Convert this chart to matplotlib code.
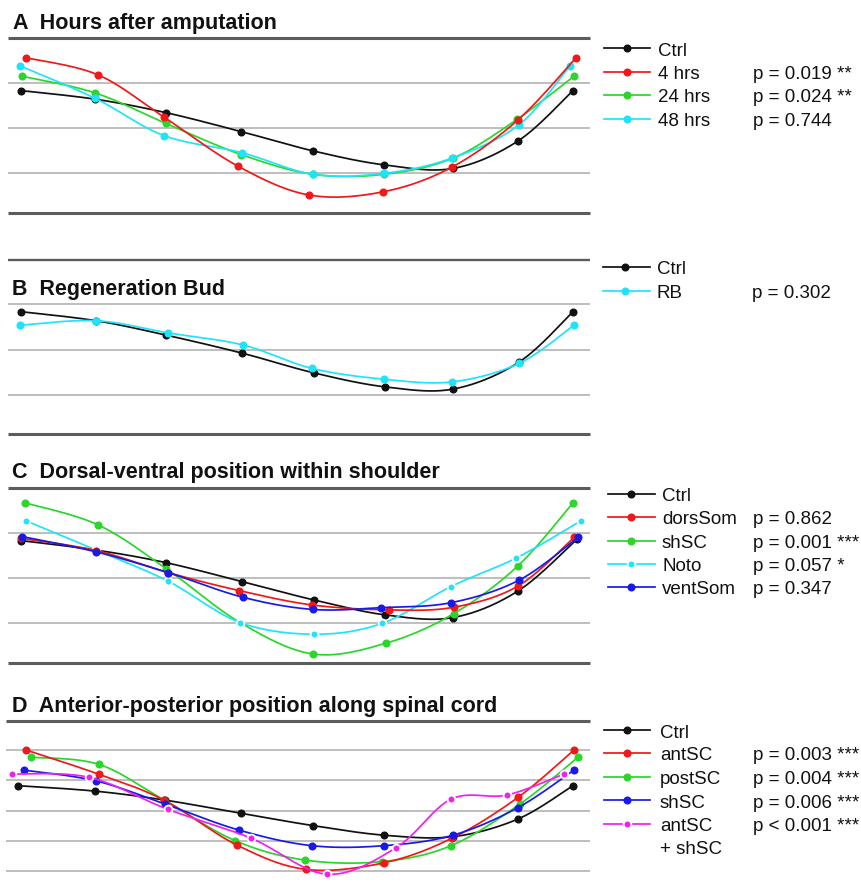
import numpy as np
import matplotlib
matplotlib.use("Agg")
import matplotlib.pyplot as plt
from matplotlib.lines import Line2D

plt.rcParams['font.family'] = ['Liberation Sans', 'DejaVu Sans']

W, H = 861, 893

# ---------------- data ----------------
# Panel A: hours after amputation
ctrlA_x = [21, 95, 166, 241, 313, 384, 453, 518, 573]
ctrlA = [2.82, 2.63, 2.33, 1.91, 1.48, 1.17, 1.09, 1.70, 2.82]
h4_x = [26, 98, 164, 238, 309, 383, 452, 518, 576]
h4 = [3.55, 3.17, 2.23, 1.14, 0.50, 0.57, 1.12, 2.17, 3.55]
h24_x = [22, 95, 166, 241, 313, 384, 453, 517, 574]
h24 = [3.14, 2.77, 2.09, 1.40, 0.96, 0.96, 1.32, 2.18, 3.14]
h48_x = [20, 95, 164, 242, 313, 384, 452, 519, 570]
h48 = [3.37, 2.65, 1.82, 1.44, 0.96, 0.98, 1.32, 2.06, 3.37]

# Panel B: regeneration bud
ctrlB_x = [21, 96, 166, 242, 314, 385, 453, 519, 573]
ctrlB = [2.84, 2.64, 2.32, 1.92, 1.48, 1.17, 1.12, 1.72, 2.84]
rb_x = [20, 96, 168, 243, 312, 384, 452, 519, 574]
rb = [2.54, 2.64, 2.37, 2.10, 1.58, 1.34, 1.28, 1.69, 2.54]

# Panel C: dorsal-ventral position within shoulder
ctrlC_x = [21, 96, 166, 242, 314, 385, 453, 518, 577]
ctrlC = [2.82, 2.61, 2.33, 1.91, 1.50, 1.17, 1.11, 1.70, 2.85]
dors_x = [21, 96, 168, 239, 312, 389, 454, 518, 574]
dors = [2.87, 2.60, 2.11, 1.71, 1.39, 1.28, 1.34, 1.81, 2.89]
shscC_x = [25, 98, 166, 240, 313, 386, 454, 518, 573]
shscC = [3.66, 3.17, 2.20, 1.00, 0.30, 0.54, 1.20, 2.26, 3.66]
noto_x = [26, 96, 168, 240, 314, 382, 451, 516, 581]
noto = [3.26, 2.61, 1.92, 1.00, 0.74, 0.98, 1.80, 2.43, 3.26]
vent_x = [22, 96, 168, 243, 313, 381, 451, 519, 578]
vent = [2.91, 2.57, 2.11, 1.56, 1.29, 1.33, 1.44, 1.94, 2.89]

# Panel D: anterior-posterior position along spinal cord
ctrlD_x = [18, 95, 165, 241, 313, 384, 453, 518, 573]
ctrlD = [3.81, 3.63, 3.33, 2.89, 2.48, 2.16, 2.11, 2.70, 3.81]
ant_x = [26, 99, 164, 237, 306, 384, 452, 518, 574]
ant = [5.00, 4.19, 3.33, 1.83, 1.02, 1.24, 2.06, 3.42, 5.00]
post_x = [31, 99, 164, 235, 305, 382, 451, 520, 578]
post = [4.76, 4.52, 3.33, 1.98, 1.33, 1.28, 1.81, 3.20, 4.76]
shscD_x = [24, 96, 165, 239, 312, 384, 453, 518, 574]
shscD = [4.33, 3.97, 3.20, 2.33, 1.81, 1.81, 2.16, 3.08, 4.33]
combo_x = [12, 89, 168, 251, 327, 396, 451, 507, 564]
combo = [4.20, 4.09, 3.02, 2.06, 0.86, 1.74, 3.36, 3.50, 4.20]

titles = ["A  Hours after amputation", "B  Regeneration Bud",
          "C  Dorsal-ventral position within shoulder",
          "D  Anterior-posterior position along spinal cord"]

labelsA = ["Ctrl", "4 hrs", "24 hrs", "48 hrs"]
pA = ["", "p = 0.019 **", "p = 0.024 **", "p = 0.744"]
labelsB = ["Ctrl", "RB"]
pB = ["", "p = 0.302"]
labelsC = ["Ctrl", "dorsSom", "shSC", "Noto", "ventSom"]
pC = ["", "p = 0.862", "p = 0.001 ***", "p = 0.057 *", "p = 0.347"]
labelsD = ["Ctrl", "antSC", "postSC", "shSC", "antSC\n+ shSC"]
pD = ["", "p = 0.003 ***", "p = 0.004 ***", "p = 0.006 ***", "p < 0.001 ***"]

BLACK = "#111111"
RED = "#f01818"
GREEN = "#2ad62a"
CYAN = "#1ee4fa"
BLUE = "#1a1ae6"
MAG = "#f020f0"

fig = plt.figure(figsize=(W / 100, H / 100), dpi=100)


def smooth(x, y, n=40):
    P = np.column_stack([x, y]).astype(float)
    Pe = np.vstack([P[0], P, P[-1]])
    out = []
    t = np.linspace(0, 1, n)[:, None]
    for i in range(len(P) - 1):
        p0, p1, p2, p3 = Pe[i], Pe[i + 1], Pe[i + 2], Pe[i + 3]
        c1 = p1 + (p2 - p0) / 6.0
        c2 = p2 - (p3 - p1) / 6.0
        seg = (1 - t) ** 3 * p1 + 3 * (1 - t) ** 2 * t * c1 + 3 * (1 - t) * t ** 2 * c2 + t ** 3 * p2
        out.append(seg if i == 0 else seg[1:])
    S = np.vstack(out)
    return S[:, 0], S[:, 1]


def make_ax(ytop, ybot, yref, ppu):
    ax = fig.add_axes([0, 1 - ybot / H, 600 / W, (ybot - ytop) / H])
    ax.set_xlim(0, 600)
    ax.set_ylim((yref - ybot) / ppu, (yref - ytop) / ppu)
    ax.axis('off')
    return ax


def series(ax, x, y, color, white_edge=False, z=3):
    sx, sy = smooth(x, y)
    ax.plot(sx, sy, color=color, lw=1.25, clip_on=False, zorder=z)
    if white_edge:
        ax.plot(x, y, 'o', color=color, ms=5.6, mec='white', mew=1.3, clip_on=False, zorder=z + 0.1)
    else:
        ax.plot(x, y, 'o', color=color, ms=4.8, mec=color, clip_on=False, zorder=z + 0.1)


def rules(ax, dark, grid, x0=8, x1=590):
    for v in grid:
        ax.hlines(v, x0, x1, color='#b3b3b3', lw=1.2, zorder=1)
    for v, lw in dark:
        ax.hlines(v, x0, x1, color='#5c5c5c', lw=lw, zorder=1)


def legend(entries, sx0, sx1, sxm, tx, px, fs=13.5):
    for (label, p, color, white_edge, yc) in entries:
        fy = 1 - (yc - 1) / H
        fig.add_artist(Line2D([sx0 / W, sx1 / W], [fy, fy], color=color, lw=1.25))
        if white_edge:
            fig.add_artist(Line2D([sxm / W], [fy], marker='o', color=color, ms=5.6,
                                  mec='white', mew=1.3))
        else:
            fig.add_artist(Line2D([sxm / W], [fy], marker='o', color=color, ms=4.8))
        lines = label.split("\n")
        for k, ln in enumerate(lines):
            fig.text(tx / W, 1 - (yc + 6.5 + 23.5 * k) / H, ln, fontsize=fs, va='baseline',
                     ha='left', color='#111111')
        if p:
            fig.text(px / W, 1 - (yc + 6.5) / H, p, fontsize=fs, va='baseline', ha='left',
                     color='#111111')


def title(s, x, ybase):
    fig.text(x / W, 1 - ybase / H, s, fontsize=15.5, fontweight='bold', va='baseline',
             ha='left', color='#111111')


# ---------------- Panel A ----------------
axA = make_ax(30, 225, 217.5, 45)
rules(axA, [(4.0, 2.2), (0.107, 2.2)], [3, 2, 1])
series(axA, ctrlA_x, ctrlA, BLACK, z=3)
series(axA, h24_x, h24, GREEN, z=4)
series(axA, h48_x, h48, CYAN, z=5)
series(axA, h4_x, h4, RED, z=6)
title(titles[0], 13, 28.5)
legend([(labelsA[0], pA[0], BLACK, False, 49),
        (labelsA[1], pA[1], RED, False, 72.5),
        (labelsA[2], pA[2], GREEN, False, 96),
        (labelsA[3], pA[3], CYAN, False, 119.5)], 604, 650, 627, 658, 753)

# ---------------- Panel B ----------------
axB = make_ax(250, 445, 439.5, 45)
rules(axB, [(4.0, 1.7), (0.115, 2.2)], [3.01, 2, 1])
series(axB, ctrlB_x, ctrlB, BLACK, z=3)
series(axB, rb_x, rb, CYAN, z=4)
title(titles[1], 12, 295)
legend([(labelsB[0], pB[0], BLACK, False, 268),
        (labelsB[1], pB[1], CYAN, False, 292)], 603, 650, 625, 657, 752)

# ---------------- Panel C ----------------
axC = make_ax(478, 672, 667.5, 45)
rules(axC, [(4.0, 2.2), (0.107, 2.2)], [3, 2, 1])
series(axC, ctrlC_x, ctrlC, BLACK, z=3)
series(axC, shscC_x, shscC, GREEN, z=4)
series(axC, noto_x, noto, CYAN, white_edge=True, z=5)
series(axC, dors_x, dors, RED, z=6)
series(axC, vent_x, vent, BLUE, z=7)
title(titles[2], 12, 478)
legend([(labelsC[0], pC[0], BLACK, False, 494.5),
        (labelsC[1], pC[1], RED, False, 518),
        (labelsC[2], pC[2], GREEN, False, 541.5),
        (labelsC[3], pC[3], CYAN, True, 564.5),
        (labelsC[4], pC[4], BLUE, False, 588)], 608, 655, 631, 662, 753)

# ---------------- Panel D ----------------
axD = make_ax(712, 893, 900, 30)
rules(axD, [(5.98, 2.2)], [5, 4, 2.98, 1.98, 0.98], x0=6)
series(axD, ctrlD_x, ctrlD, BLACK, z=3)
series(axD, post_x, post, GREEN, z=4)
series(axD, ant_x, ant, RED, z=5)
series(axD, shscD_x, shscD, BLUE, z=6)
series(axD, combo_x, combo, MAG, white_edge=True, z=7)
title(titles[3], 12, 712)
legend([(labelsD[0], pD[0], BLACK, False, 731),
        (labelsD[1], pD[1], RED, False, 754),
        (labelsD[2], pD[2], GREEN, False, 777.5),
        (labelsD[3], pD[3], BLUE, False, 801),
        (labelsD[4], pD[4], MAG, True, 824.5)], 604, 650, 627, 660, 753)

fig.savefig("out.png", dpi=100, facecolor='white')
